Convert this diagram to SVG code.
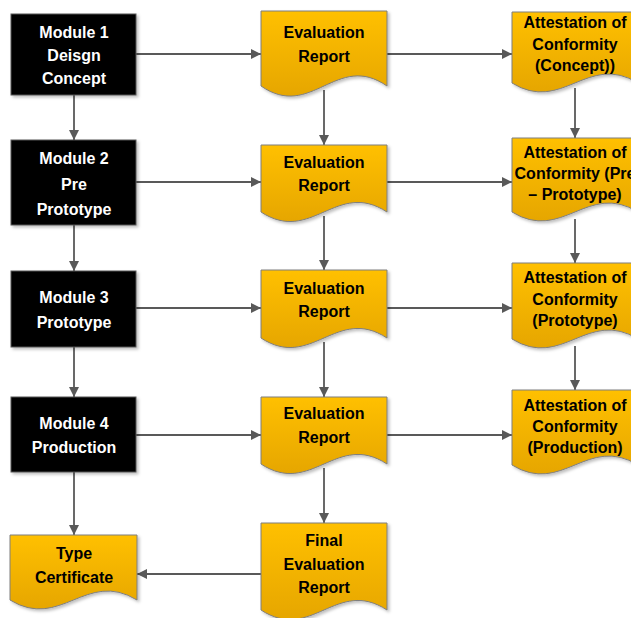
<svg xmlns="http://www.w3.org/2000/svg" width="631" height="618" viewBox="0 0 631 618">
  <defs>
    <linearGradient id="docFill" x1="0" y1="0" x2="0" y2="1">
      <stop offset="0" stop-color="#FFC000"/>
      <stop offset="1" stop-color="#E6A600"/>
    </linearGradient>
    <filter id="shadow" x="-10%" y="-10%" width="125%" height="125%">
      <feDropShadow dx="2" dy="2" stdDeviation="1.5" flood-color="#000" flood-opacity="0.25"/>
    </filter>
    <marker id="arrow" viewBox="0 0 10 10" refX="10" refY="5" markerWidth="10" markerHeight="10" markerUnits="userSpaceOnUse" orient="auto">
      <path d="M0,0 L10,5 L0,10 Z" fill="#595959"/>
    </marker>
  </defs>
  <style>
    .module { fill: #000; stroke: #595959; stroke-width: 1; filter: url(#shadow); }
    .doc { fill: url(#docFill); stroke: #7F7F7F; stroke-width: 1; filter: url(#shadow); }
    .mtxt { fill: #fff; font-family: "Liberation Sans", Arial, sans-serif; font-weight: bold; font-size: 16px; text-anchor: middle; }
    .dtxt { fill: #000; font-family: "Liberation Sans", Arial, sans-serif; font-weight: bold; font-size: 16px; text-anchor: middle; }
    .conn { stroke: #595959; stroke-width: 1.8; fill: none; marker-end: url(#arrow); }
  </style>

  <rect width="631" height="618" fill="#fff"/>

  <!-- connectors -->
  <g id="connectors">
    <!-- row 1 -->
    <line class="conn" x1="136" y1="54" x2="261" y2="54"/>
    <line class="conn" x1="387" y1="54" x2="512" y2="54"/>
    <!-- row 2 -->
    <line class="conn" x1="136" y1="182" x2="261" y2="182"/>
    <line class="conn" x1="387" y1="182" x2="512" y2="182"/>
    <!-- row 3 -->
    <line class="conn" x1="136" y1="308" x2="261" y2="308"/>
    <line class="conn" x1="387" y1="308" x2="512" y2="308"/>
    <!-- row 4 -->
    <line class="conn" x1="136" y1="435" x2="261" y2="435"/>
    <line class="conn" x1="387" y1="435" x2="512" y2="435"/>
    <!-- module column -->
    <line class="conn" x1="74" y1="95" x2="74" y2="140"/>
    <line class="conn" x1="74" y1="225" x2="74" y2="271"/>
    <line class="conn" x1="74" y1="347" x2="74" y2="397"/>
    <line class="conn" x1="74" y1="472" x2="74" y2="535"/>
    <!-- evaluation column -->
    <line class="conn" x1="324" y1="90" x2="324" y2="145"/>
    <line class="conn" x1="324" y1="216" x2="324" y2="270"/>
    <line class="conn" x1="324" y1="342" x2="324" y2="397"/>
    <line class="conn" x1="324" y1="468" x2="324" y2="523"/>
    <!-- attestation column -->
    <line class="conn" x1="575" y1="88" x2="575" y2="138"/>
    <line class="conn" x1="575" y1="219" x2="575" y2="263"/>
    <line class="conn" x1="575" y1="346" x2="575" y2="390"/>
    <!-- final report to certificate -->
    <line class="conn" x1="261" y1="574" x2="137" y2="574"/>
  </g>

  <!-- modules -->
  <g id="module1">
    <rect class="module" x="11" y="14" width="125" height="81"/>
    <text class="mtxt" x="74" y="38">Module 1</text>
    <text class="mtxt" x="74" y="61">Deisgn</text>
    <text class="mtxt" x="74" y="84">Concept</text>
  </g>
  <g id="module2">
    <rect class="module" x="11" y="140" width="125" height="85"/>
    <text class="mtxt" x="74" y="164">Module 2</text>
    <text class="mtxt" x="74" y="190">Pre</text>
    <text class="mtxt" x="74" y="215">Prototype</text>
  </g>
  <g id="module3">
    <rect class="module" x="11" y="271" width="125" height="76"/>
    <text class="mtxt" x="74" y="303">Module 3</text>
    <text class="mtxt" x="74" y="328">Prototype</text>
  </g>
  <g id="module4">
    <rect class="module" x="11" y="397" width="125" height="75"/>
    <text class="mtxt" x="74" y="429">Module 4</text>
    <text class="mtxt" x="74" y="453">Production</text>
  </g>

  <!-- evaluation reports -->
  <g id="eval1">
    <path class="doc" d="M261,11 H387 V86 C336.6,51 311.4,121 261,86 Z"/>
    <text class="dtxt" x="324" y="38">Evaluation</text>
    <text class="dtxt" x="324" y="62">Report</text>
  </g>
  <g id="eval2">
    <path class="doc" d="M261,145 H387 V212 C336.6,179 311.4,245 261,212 Z"/>
    <text class="dtxt" x="324" y="168">Evaluation</text>
    <text class="dtxt" x="324" y="191">Report</text>
  </g>
  <g id="eval3">
    <path class="doc" d="M261,270 H387 V338 C336.6,305 311.4,371 261,338 Z"/>
    <text class="dtxt" x="324" y="294">Evaluation</text>
    <text class="dtxt" x="324" y="317">Report</text>
  </g>
  <g id="eval4">
    <path class="doc" d="M261,397 H387 V464 C336.6,431 311.4,497 261,464 Z"/>
    <text class="dtxt" x="324" y="419">Evaluation</text>
    <text class="dtxt" x="324" y="443">Report</text>
  </g>
  <g id="finalEval">
    <path class="doc" d="M261,523 H387 V610 C336.6,577 311.4,643 261,610 Z"/>
    <text class="dtxt" x="324" y="546">Final</text>
    <text class="dtxt" x="324" y="570">Evaluation</text>
    <text class="dtxt" x="324" y="593">Report</text>
  </g>

  <!-- attestations -->
  <g id="attest1">
    <path class="doc" d="M512,12 H638 V83 C587.6,52 562.4,114 512,83 Z"/>
    <text class="dtxt" x="575" y="28">Attestation of</text>
    <text class="dtxt" x="575" y="50">Conformity</text>
    <text class="dtxt" x="575" y="71">(Concept))</text>
  </g>
  <g id="attest2">
    <path class="doc" d="M512,138 H638 V212 C587.6,181 562.4,243 512,212 Z"/>
    <text class="dtxt" x="575" y="158">Attestation of</text>
    <text class="dtxt" x="575" y="179">Conformity (Pre</text>
    <text class="dtxt" x="575" y="200">– Prototype)</text>
  </g>
  <g id="attest3">
    <path class="doc" d="M512,263 H638 V339 C587.6,308 562.4,370 512,339 Z"/>
    <text class="dtxt" x="575" y="283">Attestation of</text>
    <text class="dtxt" x="575" y="305">Conformity</text>
    <text class="dtxt" x="575" y="326">(Prototype)</text>
  </g>
  <g id="attest4">
    <path class="doc" d="M512,390 H638 V465 C587.6,434 562.4,496 512,465 Z"/>
    <text class="dtxt" x="575" y="411">Attestation of</text>
    <text class="dtxt" x="575" y="432">Conformity</text>
    <text class="dtxt" x="575" y="453">(Production)</text>
  </g>

  <!-- certificate -->
  <g id="typeCert">
    <path class="doc" d="M10,535 H137 V600 C86.2,569 60.8,631 10,600 Z"/>
    <text class="dtxt" x="74" y="559">Type</text>
    <text class="dtxt" x="74" y="583">Certificate</text>
  </g>
</svg>
